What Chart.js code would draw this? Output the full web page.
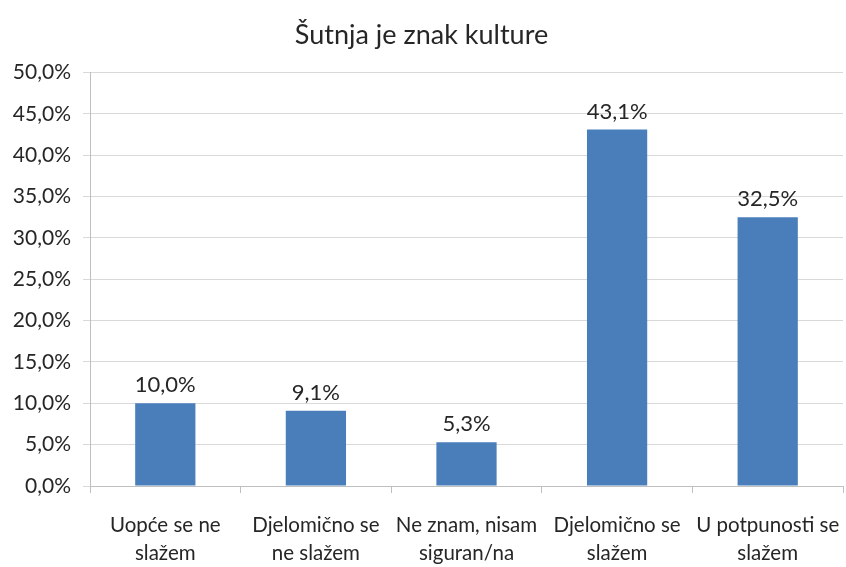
<!DOCTYPE html>
<html>
<head>
<meta charset="utf-8">
<script src="https://cdn.jsdelivr.net/npm/chart.js@4.4.1/dist/chart.umd.min.js"></script>
<style>
  html, body { margin: 0; padding: 0; background: #fff; }
  #wrap { width: 846px; height: 567px; }
</style>
</head>
<body>
<div id="wrap"><canvas id="c" width="846" height="567"></canvas></div>
<script>
const categories = [
  ['Uopće se ne', 'slažem'],
  ['Djelomično se', 'ne slažem'],
  ['Ne znam, nisam', 'siguran/na'],
  ['Djelomično se', 'slažem'],
  ['U potpunosti se', 'slažem']
];
const values = [10.0, 9.1, 5.3, 43.1, 32.5];
const yTicks = [0, 5, 10, 15, 20, 25, 30, 35, 40, 45, 50];

const FONT = 'Lato, "Open Sans", sans-serif';
const fmt = v => v.toFixed(1).replace('.', ',') + '%';

// percentage labels above each bar
const valueLabels = {
  id: 'valueLabels',
  afterDatasetsDraw(chart) {
    const ctx = chart.ctx;
    const meta = chart.getDatasetMeta(0);
    ctx.save();
    ctx.font = '22px ' + FONT;
    ctx.fillStyle = '#262626';
    ctx.textAlign = 'center';
    ctx.textBaseline = 'bottom';
    meta.data.forEach((bar, i) => {
      ctx.fillText(fmt(values[i]), bar.x, bar.y - 7);
    });
    ctx.restore();
  }
};

new Chart(document.getElementById('c'), {
  type: 'bar',
  data: {
    labels: categories,
    datasets: [{
      data: values,
      backgroundColor: '#4a7ebb',
      barPercentage: 0.4,
      categoryPercentage: 1.0
    }]
  },
  options: {
    responsive: false,
    animation: false,
    layout: { padding: { left: 0, right: 3, top: 0, bottom: 0 } },
    plugins: {
      legend: { display: false },
      tooltip: { enabled: false },
      title: {
        display: true,
        text: 'Šutnja je znak kulture',
        color: '#262626',
        font: { family: FONT, size: 27, weight: 'normal' },
        padding: { top: 19, bottom: 21 }
      }
    },
    scales: {
      x: {
        afterFit(scale) {
          scale.height = 81;
          scale.paddingLeft = 0;
          scale.paddingRight = 0;
        },
        grid: {
          drawOnChartArea: false,
          drawTicks: true,
          tickLength: 7,
          color: '#bfbfbf',
          offset: true
        },
        border: { display: true, color: '#bfbfbf' },
        ticks: {
          color: '#262626',
          font: { family: FONT, size: 20.5, lineHeight: 1.38 },
          padding: 18,
          maxRotation: 0,
          autoSkip: false
        }
      },
      y: {
        min: 0,
        max: 50,
        afterBuildTicks(scale) {
          scale.ticks = yTicks.map(v => ({ value: v }));
        },
        afterFit(scale) {
          scale.width = 90;
        },
        grid: {
          color: '#d9d9d9',
          drawTicks: true,
          tickLength: 7
        },
        border: { display: true, color: '#bfbfbf' },
        ticks: {
          color: '#262626',
          font: { family: FONT, size: 21 },
          padding: 12,
          callback: v => fmt(v)
        }
      }
    }
  },
  plugins: [valueLabels]
});
</script>
</body>
</html>
